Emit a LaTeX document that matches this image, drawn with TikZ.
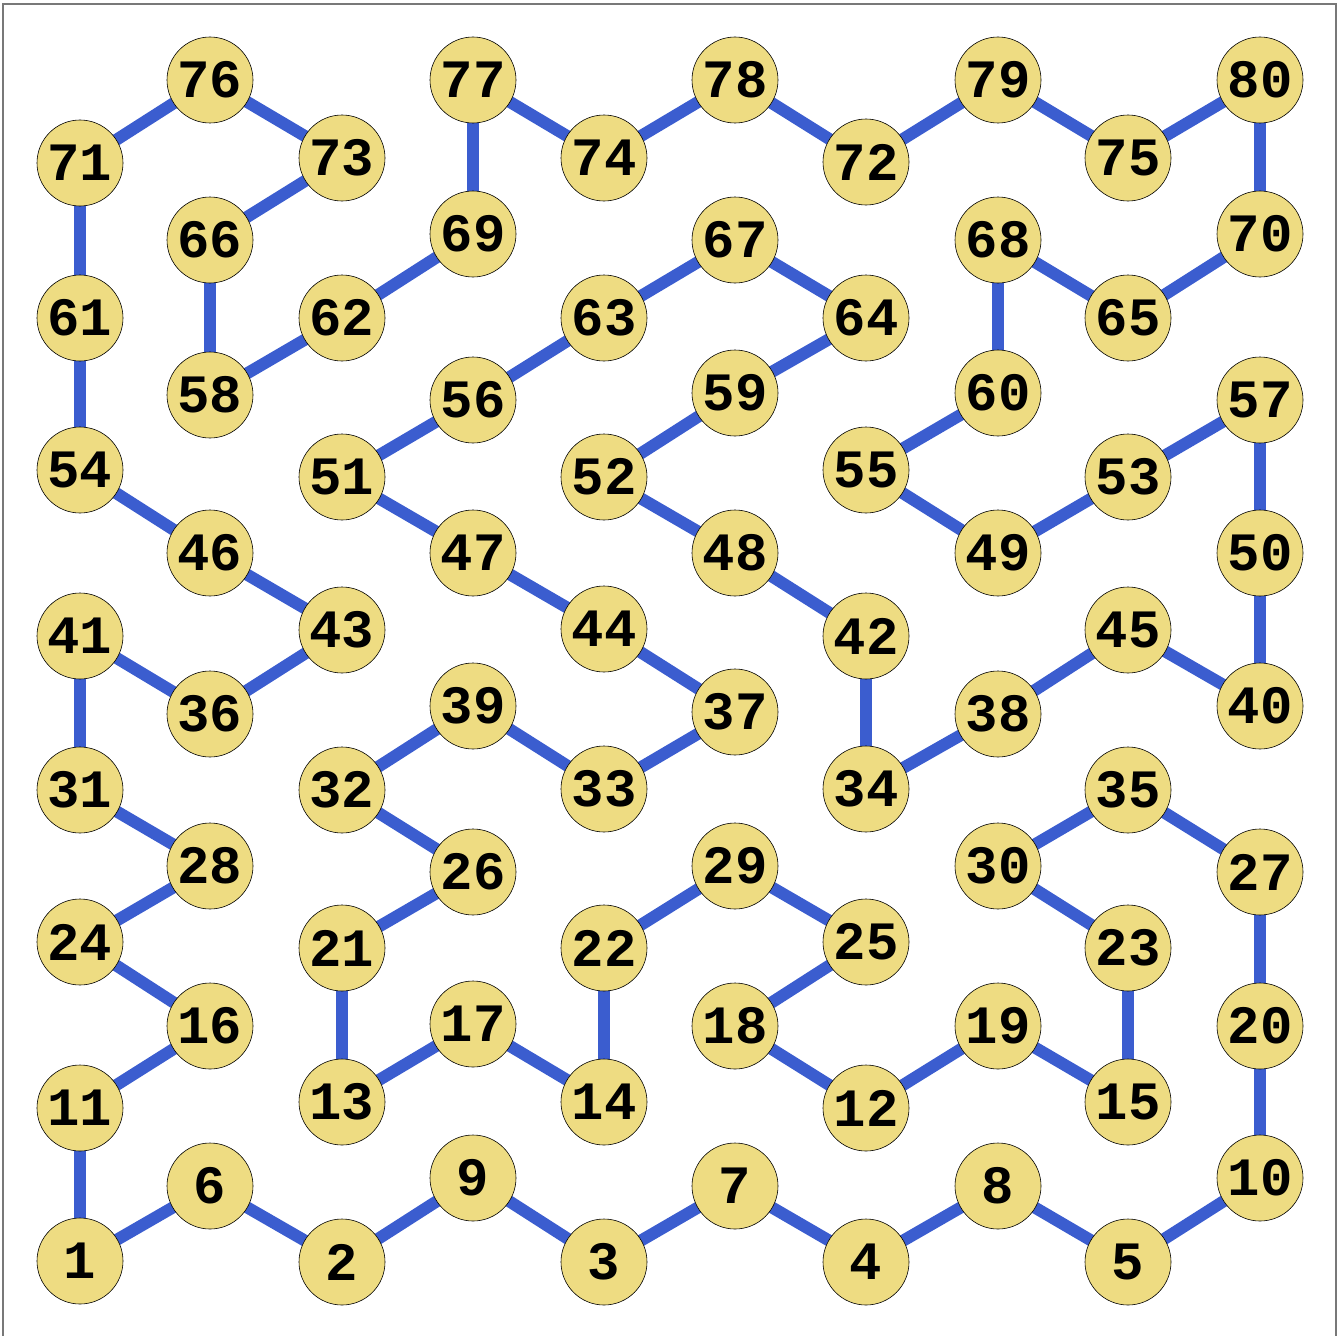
\documentclass[tikz,border=0pt]{standalone}
\usepackage{fontspec}
\newfontfamily\numfont{Liberation Mono}
\definecolor{nodefill}{RGB}{238,220,130}
\definecolor{edgeblue}{RGB}{59,93,207}
\definecolor{framegray}{RGB}{120,120,120}
\begin{document}
\begin{tikzpicture}[x=1pt,y=-1pt,
  vert/.style={circle,draw=black,line width=0.6pt,fill=nodefill,minimum size=86pt,inner sep=0pt,
    font=\numfont\bfseries\fontsize{54}{54}\selectfont},
  edge/.style={draw=edgeblue,line width=12pt}]
\useasboundingbox (0,0) rectangle (1343,1335);
\draw[framegray,line width=1.5pt] (3,1340) -- (3,4) -- (1336,4) -- (1336,1340);
\foreach \n/\x/\y in {
 1/80/1261, 11/80/1108, 24/80/942, 31/80/790, 41/80/636, 54/80/470, 61/80/318, 71/80/163,
 6/210/1186, 16/210/1026, 28/210/866, 36/210/714, 46/210/553, 58/210/395, 66/210/240, 76/210/80,
 2/342/1262, 13/342/1102, 21/342/948, 32/342/790, 43/342/630, 51/342/477, 62/342/318, 73/342/158,
 9/473/1178, 17/473/1024, 26/473/872, 39/473/706, 47/473/553, 56/473/400, 69/473/234, 77/473/80,
 3/604/1262, 14/604/1102, 22/604/948, 33/604/789, 44/604/629, 52/604/477, 63/604/318, 74/604/158,
 7/735/1186, 18/735/1026, 29/735/866, 37/735/712, 48/735/553, 59/735/393, 67/735/240, 78/735/80,
 4/866/1262, 12/866/1108, 25/866/942, 34/866/789, 42/866/636, 55/866/470, 64/866/318, 72/866/162,
 8/998/1186, 19/998/1026, 30/998/866, 38/998/714, 49/998/553, 60/998/393, 68/998/240, 79/998/80,
 5/1128/1262, 15/1128/1102, 23/1128/948, 35/1128/790, 45/1128/630, 53/1128/477, 65/1128/318, 75/1128/158,
 10/1260/1178, 20/1260/1026, 27/1260/872, 40/1260/706, 50/1260/553, 57/1260/400, 70/1260/234, 80/1260/80}
 \coordinate (p\n) at (\x,\y);
\foreach \a/\b in {1/6, 6/2, 2/9, 9/3, 3/7, 7/4, 4/8, 8/5, 5/10, 10/20, 20/27, 27/35, 35/30, 30/23, 23/15, 15/19, 19/12, 12/18, 18/25, 25/29, 29/22, 22/14, 14/17, 17/13, 13/21, 21/26, 26/32, 32/39, 39/33, 33/37, 37/44, 44/47, 47/51, 51/56, 56/63, 63/67, 67/64, 64/59, 59/52, 52/48, 48/42, 42/34, 34/38, 38/45, 45/40, 40/50, 50/57, 57/53, 53/49, 49/55, 55/60, 60/68, 68/65, 65/70, 70/80, 80/75, 75/79, 79/72, 72/78, 78/74, 74/77, 77/69, 69/62, 62/58, 58/66, 66/73, 73/76, 76/71, 71/61, 61/54, 54/46, 46/43, 43/36, 36/41, 41/31, 31/28, 28/24, 24/16, 16/11, 11/1}
 \draw[edge] (p\a) -- (p\b);
\foreach \n in {1,...,80}
 \node[vert] (n\n) at (p\n) {\n};
\end{tikzpicture}
\end{document}
